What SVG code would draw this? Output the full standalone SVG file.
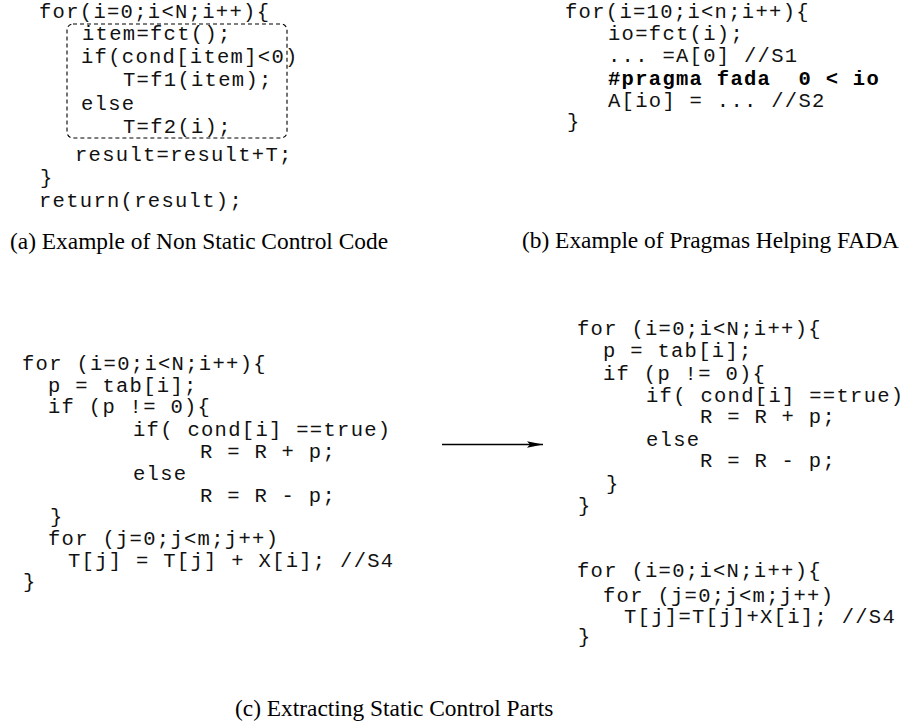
<svg xmlns="http://www.w3.org/2000/svg" width="909" height="726" viewBox="0 0 909 726">
<style>
.c{font-family:"Liberation Mono","Courier New",monospace;font-size:20.5px;letter-spacing:1.3px;fill:#111;white-space:pre}
.b{font-weight:bold;fill:#000}
.cap{font-family:"Liberation Serif","Times New Roman",serif;font-size:23.4px;fill:#000}
.box{fill:none;stroke:#000;stroke-width:1.1;stroke-dasharray:4 3}
</style>
<defs>
<marker id="ah" viewBox="0 0 16 8" refX="16" refY="4" markerWidth="16" markerHeight="8" markerUnits="userSpaceOnUse" orient="auto">
<path d="M0,0.8 L16,4 L0,7.2 L3,4 Z" fill="#000"/>
</marker>
</defs>
<rect width="909" height="726" fill="#fff"/>
<g id="panel-a">
<rect class="box" x="67" y="24" width="220" height="114" rx="6"/>
<text class="c" x="39" y="17.5">for(i=0;i&lt;N;i++){</text>
<text class="c" x="82" y="39.5">item=fct();</text>
<text class="c" x="81" y="62.5">if(cond[item]&lt;0)</text>
<text class="c" x="123" y="86">T=f1(item);</text>
<text class="c" x="81" y="109.5">else</text>
<text class="c" x="123" y="133">T=f2(i);</text>
<text class="c" x="75" y="161">result=result+T;</text>
<text class="c" x="40" y="184">}</text>
<text class="c" x="39" y="207">return(result);</text>
<text class="cap" x="10" y="249">(a) Example of Non Static Control Code</text>
</g>
<g id="panel-b">
<text class="c" x="565" y="17.5">for(i=10;i&lt;n;i++){</text>
<text class="c" x="608" y="40">io=fct(i);</text>
<text class="c" x="608" y="62">... =A[0] //S1</text>
<text class="c b" x="608" y="85">#pragma fada  0 &lt; io</text>
<text class="c" x="608" y="107">A[io] = ... //S2</text>
<text class="c" x="567" y="128">}</text>
<text class="cap" x="522" y="248">(b) Example of Pragmas Helping FADA</text>
</g>
<g id="panel-c-left">
<text class="c" x="22" y="370">for (i=0;i&lt;N;i++){</text>
<text class="c" x="48" y="392">p = tab[i];</text>
<text class="c" x="48" y="413">if (p != 0){</text>
<text class="c" x="133" y="436">if( cond[i] ==true)</text>
<text class="c" x="200" y="458">R = R + p;</text>
<text class="c" x="133" y="480">else</text>
<text class="c" x="200" y="502">R = R - p;</text>
<text class="c" x="50" y="523">}</text>
<text class="c" x="48" y="545">for (j=0;j&lt;m;j++)</text>
<text class="c" x="68" y="567">T[j] = T[j] + X[i]; //S4</text>
<text class="c" x="23" y="588">}</text>
</g>
<g id="panel-c-right">
<text class="c" x="577" y="335">for (i=0;i&lt;N;i++){</text>
<text class="c" x="603" y="357">p = tab[i];</text>
<text class="c" x="603" y="380">if (p != 0){</text>
<text class="c" x="646" y="402">if( cond[i] ==true)</text>
<text class="c" x="700" y="423">R = R + p;</text>
<text class="c" x="646" y="446">else</text>
<text class="c" x="700" y="467">R = R - p;</text>
<text class="c" x="606" y="490">}</text>
<text class="c" x="578" y="512">}</text>
<text class="c" x="577" y="577">for (i=0;i&lt;N;i++){</text>
<text class="c" x="603" y="602">for (j=0;j&lt;m;j++)</text>
<text class="c" x="624" y="623">T[j]=T[j]+X[i]; //S4</text>
<text class="c" x="578" y="643">}</text>
</g>
<g id="connectors">
<line x1="442" y1="444.5" x2="543" y2="444.5" stroke="#000" stroke-width="1.7" marker-end="url(#ah)"/>
</g>
<text class="cap" x="235" y="716">(c) Extracting Static Control Parts</text>
</svg>
